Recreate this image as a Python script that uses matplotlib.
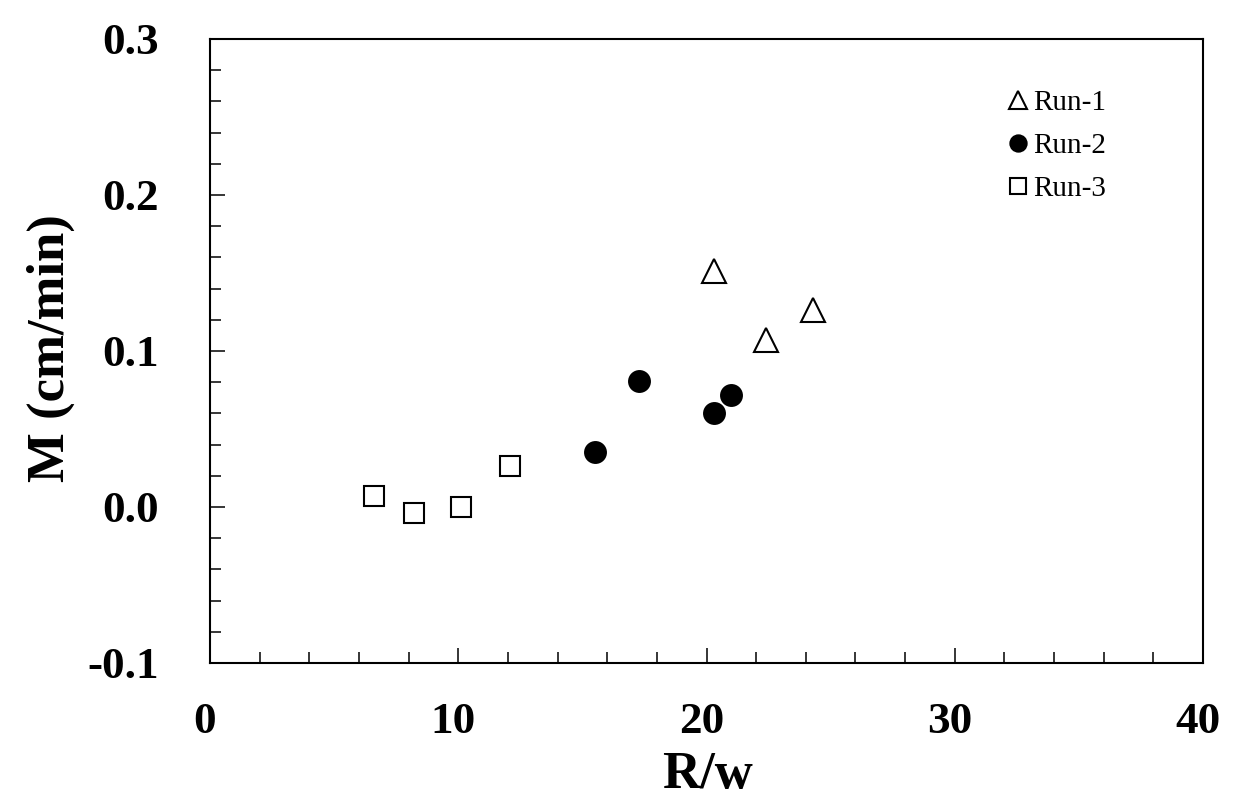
import matplotlib
matplotlib.use("Agg")
import matplotlib.pyplot as plt
from matplotlib.ticker import MultipleLocator, FuncFormatter
from matplotlib.transforms import ScaledTranslation

# === Data ===
run1_x = [20.3, 22.4, 24.3]
run1_y = [0.151, 0.107, 0.126]

run2_x = [15.5, 17.3, 20.3, 21.0]
run2_y = [0.035, 0.081, 0.060, 0.072]

run3_x = [6.6, 8.2, 10.1, 12.1]
run3_y = [0.007, -0.004, 0.000, 0.026]

x_ticks = [0, 10, 20, 30, 40]
y_ticks = [-0.1, 0.0, 0.1, 0.2, 0.3]

plt.rcParams['font.family'] = ['Liberation Serif', 'DejaVu Serif']
plt.rcParams['axes.unicode_minus'] = False

fig = plt.figure(figsize=(12.57, 7.99), dpi=100)
ax = fig.add_axes([210 / 1257, 136 / 799, 993 / 1257, 624 / 799])

ax.plot(run1_x, run1_y, linestyle='none', marker='^', ms=17, mfc='white',
        mec='black', mew=1.5, label='Run-1')
ax.plot(run2_x, run2_y, linestyle='none', marker='o', ms=15, mfc='black',
        mec='black', mew=1.5, label='Run-2')
ax.plot(run3_x, run3_y, linestyle='none', marker='s', ms=15, mfc='white',
        mec='black', mew=1.5, label='Run-3')

ax.set_xlim(0, 40)
ax.set_ylim(-0.1, 0.3)
ax.set_xticks(x_ticks)
ax.set_yticks(y_ticks)
ax.xaxis.set_minor_locator(MultipleLocator(2))
ax.yaxis.set_minor_locator(MultipleLocator(0.02))
ax.yaxis.set_major_formatter(FuncFormatter(lambda v, p: f"{v:.1f}"))
ax.xaxis.set_major_formatter(FuncFormatter(lambda v, p: f"{v:.0f}"))

ax.tick_params(which='both', direction='in', top=False, right=False, width=1.1)
ax.tick_params(which='major', length=11)
ax.tick_params(which='minor', length=8)
ax.tick_params(axis='x', which='major', pad=28)
ax.tick_params(axis='y', which='major', pad=37)
for lab in ax.get_xticklabels() + ax.get_yticklabels():
    lab.set_fontsize(32.5)
    lab.set_fontweight('bold')

# x tick labels sit a little left of their ticks in the original
shift = ScaledTranslation(-5 / 100, 0, fig.dpi_scale_trans)
for lab in ax.get_xticklabels():
    lab.set_transform(lab.get_transform() + shift)

for sp in ax.spines.values():
    sp.set_linewidth(1.5)

fig.text(707 / 1257, 11 / 799, 'R/w', fontsize=38, fontweight='bold',
         ha='center', va='baseline')
fig.text(51 / 1257, 451 / 799, 'M (cm/min)', fontsize=38, fontweight='bold',
         ha='center', va='center', rotation=90)

ax.legend(loc='upper left', bbox_to_anchor=(0.8037, 0.919), frameon=False,
          fontsize=21, handlelength=0.7, handletextpad=0.17, borderpad=0,
          borderaxespad=0, labelspacing=0.57, markerscale=0.78)

fig.savefig('out.png', dpi=100)
